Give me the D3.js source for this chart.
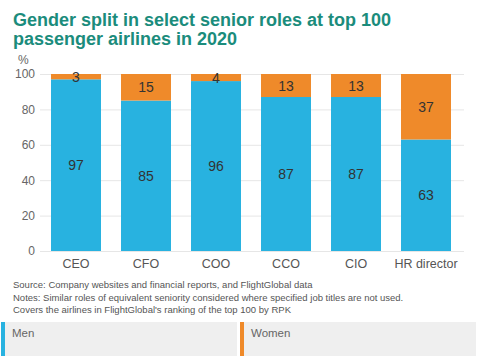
<!DOCTYPE html>
<html><head><meta charset="utf-8">
<script src="https://cdn.jsdelivr.net/npm/d3@7"></script>
<style>body{margin:0;background:#fff;font-family:"Liberation Sans",Arial,sans-serif}</style>
</head><body><svg id="c" width="480" height="356"></svg>
<script>
const categories = ["CEO","CFO","COO","CCO","CIO","HR director"];
const men = [97,85,96,87,87,63];
const women = [3,15,4,13,13,37];
const yTicks = [0,20,40,60,80,100];
const seriesNames = ["Men","Women"];
const colors = ["#28b2e0","#ef8a2a"];

const svg = d3.select("#c");
svg.append("text").attr("x",13).attr("y",26).attr("fill","#1b8c7c").attr("font-size",18).attr("font-weight","bold").text("Gender split in select senior roles at top 100");
svg.append("text").attr("x",13).attr("y",45).attr("fill","#1b8c7c").attr("font-size",18).attr("font-weight","bold").text("passenger airlines in 2020");

const x = d3.scaleBand().domain(categories).range([41,461]).paddingInner(0.286).paddingOuter(0.143);
const y = d3.scaleLinear().domain([0,100]).range([251,74]);

svg.append("text").attr("x",18).attr("y",64).attr("fill","#666").attr("font-size",12).text("%");
const ya = svg.append("g").attr("transform","translate(40,0)").call(d3.axisLeft(y).tickValues(yTicks).tickSize(-424).tickPadding(5));
ya.select(".domain").remove();
ya.selectAll("line").attr("stroke","#e6e6e6");
ya.selectAll("text").attr("fill","#666").attr("font-size",12).attr("font-family","Liberation Sans, Arial");

const data = categories.map((c,i)=>({c, men:men[i], women:women[i]}));
const stack = d3.stack().keys(["men","women"])(data);
stack.forEach((s,k)=>{
  svg.append("g").selectAll("rect").data(s).join("rect")
    .attr("x",d=>x(d.data.c)).attr("width",x.bandwidth())
    .attr("y",d=>y(d[1])).attr("height",d=>y(d[0])-y(d[1]))
    .attr("fill",colors[k]);
  svg.append("g").selectAll("text").data(s).join("text")
    .attr("x",d=>x(d.data.c)+x.bandwidth()/2)
    .attr("y",d=>(y(d[0])+y(d[1]))/2+5)
    .attr("text-anchor","middle").attr("font-size",14).attr("fill","#333")
    .text(d=>d[1]-d[0]);
});

const xa = svg.append("g").attr("transform","translate(0,251)").call(d3.axisBottom(x).tickSize(0).tickPadding(8));
xa.select(".domain").remove();
xa.selectAll("text").attr("fill","#555").attr("font-size",12.5).attr("font-family","Liberation Sans, Arial");

const notes = ["Source: Company websites and financial reports, and FlightGlobal data",
"Notes: Similar roles of equivalent seniority considered where specified job titles are not used.",
"Covers the airlines in FlightGlobal's ranking of the top 100 by RPK"];
notes.forEach((t,i)=>svg.append("text").attr("x",13).attr("y",288+i*12.5).attr("font-size",9.5).attr("fill","#555").text(t));

seriesNames.forEach((n,i)=>{
  const lx = 1 + i*239;
  svg.append("rect").attr("x",lx).attr("y",322).attr("width",236).attr("height",34).attr("fill","#efefef");
  svg.append("rect").attr("x",lx).attr("y",322).attr("width",4).attr("height",34).attr("fill",colors[i]);
  svg.append("text").attr("x",lx+11).attr("y",337).attr("font-size",11.5).attr("fill","#666").text(n);
});
</script></body></html>
